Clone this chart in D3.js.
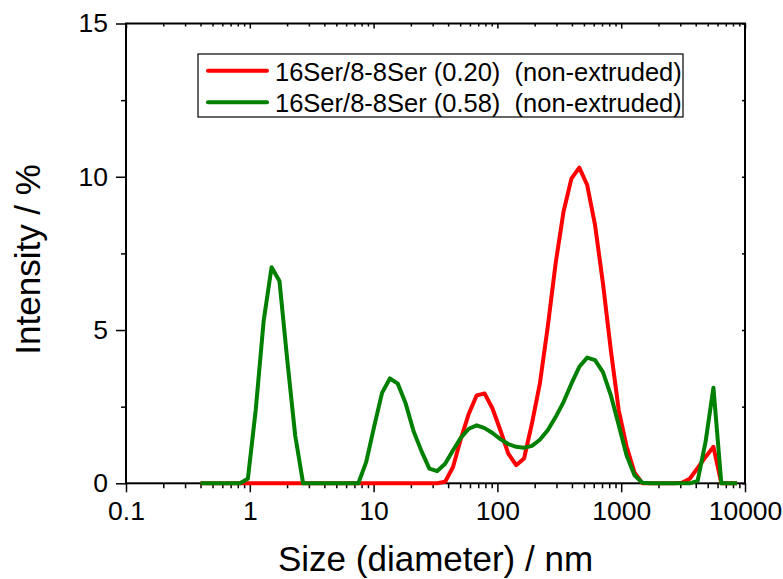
<!DOCTYPE html>
<html>
<head>
<meta charset="utf-8">
<script src="https://cdn.jsdelivr.net/npm/d3@7"></script>
<style>
  body { margin: 0; background: #fff; }
  text { font-family: "Liberation Sans", Arial, sans-serif; fill: #000; }
</style>
</head>
<body>
<svg id="chart" width="783" height="579"></svg>
<script>
// DLS size bins (nm), Zetasizer style log grid
const sizes = [0.4, 0.4632, 0.5365, 0.6213, 0.7195, 0.8332, 0.9649, 1.117, 1.294, 1.499,
  1.736, 2.01, 2.328, 2.696, 3.122, 3.615, 4.187, 4.849, 5.615, 6.503,
  7.531, 8.721, 10.1, 11.7, 13.54, 15.69, 18.17, 21.04, 24.36, 28.21,
  32.67, 37.84, 43.82, 50.75, 58.77, 68.06, 78.82, 91.28, 105.7, 122.4,
  141.8, 164.2, 190.1, 220.2, 255.0, 295.3, 342.0, 396.1, 458.7, 531.2,
  615.1, 712.4, 825.0, 955.4, 1106, 1281, 1484, 1718, 1990, 2305,
  2669, 3091, 3580, 4145, 4801, 5560, 6439, 7456, 8635];

// intensity %, 16Ser/8-8Ser (0.20)
const red = [0, 0, 0, 0, 0, 0, 0, 0, 0, 0,
  0, 0, 0, 0, 0, 0, 0, 0, 0, 0,
  0, 0, 0, 0, 0, 0, 0, 0, 0, 0,
  0, 0.05, 0.53, 1.46, 2.27, 2.87, 2.93, 2.44, 1.73, 0.97,
  0.59, 0.81, 1.95, 3.25, 5.1, 7.17, 8.86, 9.94, 10.3, 9.73,
  8.42, 6.52, 4.34, 2.38, 1.2, 0.35, 0, 0, 0, 0,
  0, 0.02, 0.15, 0.5, 0.86, 1.19, 0, 0, 0];

// intensity %, 16Ser/8-8Ser (0.58)
const green = [0, 0, 0, 0, 0, 0, 0.15, 2.4, 5.3, 7.05,
  6.6, 4.0, 1.55, 0, 0, 0, 0, 0, 0, 0,
  0, 0.7, 1.85, 2.95, 3.42, 3.25, 2.6, 1.7, 1.05, 0.48,
  0.4, 0.64, 1.08, 1.49, 1.78, 1.89, 1.8, 1.64, 1.44, 1.28,
  1.19, 1.16, 1.22, 1.42, 1.73, 2.16, 2.65, 3.25, 3.8, 4.1,
  4.02, 3.63, 2.87, 1.89, 0.91, 0.26, 0.02, 0, 0, 0,
  0, 0, 0, 0.08, 1.35, 3.12, 0, 0, 0];

const seriesNames = ["16Ser/8-8Ser (0.20)  (non-extruded)", "16Ser/8-8Ser (0.58)  (non-extruded)"];
const seriesColors = ["#ff0000", "#008000"];

const xTicks = [0.1, 1, 10, 100, 1000, 10000];
const yTicks = [0, 5, 10, 15];
const yMinor = [2.5, 7.5, 12.5];

// plot box
const m = { left: 126, right: 745, top: 23.5, bottom: 483.3 };

const svg = d3.select("#chart");

const x = d3.scaleLog().domain([0.1, 10000]).range([m.left, m.right]);
const y = d3.scaleLinear().domain([0, 15]).range([m.bottom, m.top]);

// minor ticks 2..9 in every decade
const xMinor = [];
xTicks.slice(0, -1).forEach(d => {
    for (let k = 2; k <= 9; k++) xMinor.push(d * k);
});

const fmt = d => d < 1 ? String(d) : d3.format("d")(d);

function styleAxis(g) {
    g.select(".domain").remove();
    g.selectAll("line").attr("stroke", "#000").attr("stroke-width", 1.5);
    g.selectAll("text").style("font-size", "26.5px").attr("fill", "#000");
}

// bottom axis
svg.append("g")
    .attr("transform", `translate(0,${m.bottom})`)
    .call(d3.axisBottom(x).tickValues(xTicks).tickFormat(fmt).tickSize(9).tickPadding(9))
    .call(styleAxis);
svg.append("g")
    .attr("transform", `translate(0,${m.bottom})`)
    .call(d3.axisBottom(x).tickValues(xMinor).tickFormat("").tickSize(5))
    .call(styleAxis);

// top axis, ticks inside
svg.append("g")
    .attr("transform", `translate(0,${m.top})`)
    .call(d3.axisTop(x).tickValues(xTicks).tickFormat("").tickSize(-5))
    .call(styleAxis);
svg.append("g")
    .attr("transform", `translate(0,${m.top})`)
    .call(d3.axisTop(x).tickValues(xMinor).tickFormat("").tickSize(-3))
    .call(styleAxis);

// left axis
svg.append("g")
    .attr("transform", `translate(${m.left},0)`)
    .call(d3.axisLeft(y).tickValues(yTicks).tickSize(10).tickPadding(8))
    .call(styleAxis);
svg.append("g")
    .attr("transform", `translate(${m.left},0)`)
    .call(d3.axisLeft(y).tickValues(yMinor).tickFormat("").tickSize(5))
    .call(styleAxis);

// right axis, ticks inside
svg.append("g")
    .attr("transform", `translate(${m.right},0)`)
    .call(d3.axisRight(y).tickValues(yTicks.concat(yMinor)).tickFormat("").tickSize(-3))
    .call(styleAxis);

// frame
svg.append("rect")
    .attr("x", m.left).attr("y", m.top)
    .attr("width", m.right - m.left).attr("height", m.bottom - m.top)
    .attr("fill", "none").attr("stroke", "#000").attr("stroke-width", 2);

// curves - green drawn last so it sits on top
const line = d3.line()
    .x((d, i) => x(sizes[i]))
    .y(d => y(d));

[red, green].forEach((vals, i) => {
    svg.append("path")
        .datum(vals)
        .attr("d", line)
        .attr("fill", "none")
        .attr("stroke", seriesColors[i])
        .attr("stroke-width", 4)
        .attr("stroke-linejoin", "round");
});

// axis titles
svg.append("text")
    .attr("x", (m.left + m.right) / 2)
    .attr("y", 571)
    .attr("text-anchor", "middle")
    .style("font-size", "35px")
    .text("Size (diameter) / nm");

svg.append("text")
    .attr("transform", `translate(40,${(m.top + m.bottom) / 2 + 6}) rotate(-90)`)
    .attr("text-anchor", "middle")
    .style("font-size", "35px")
    .text("Intensity / %");

// legend
const legend = svg.append("g");
legend.append("rect")
    .attr("x", 198).attr("y", 54)
    .attr("width", 485).attr("height", 63)
    .attr("fill", "#fff").attr("stroke", "#000").attr("stroke-width", 1.2);

seriesNames.forEach((name, i) => {
    const ly = 70.7 + i * 31.6;
    legend.append("line")
        .attr("x1", 208).attr("x2", 267)
        .attr("y1", ly).attr("y2", ly)
        .attr("stroke", seriesColors[i])
        .attr("stroke-width", 4)
        .attr("stroke-linecap", "round");
    legend.append("text")
        .attr("x", 275).attr("y", ly + 10)
        .style("font-size", "25.5px")
        .style("white-space", "pre")
        .text(name);
});
</script>
</body>
</html>
